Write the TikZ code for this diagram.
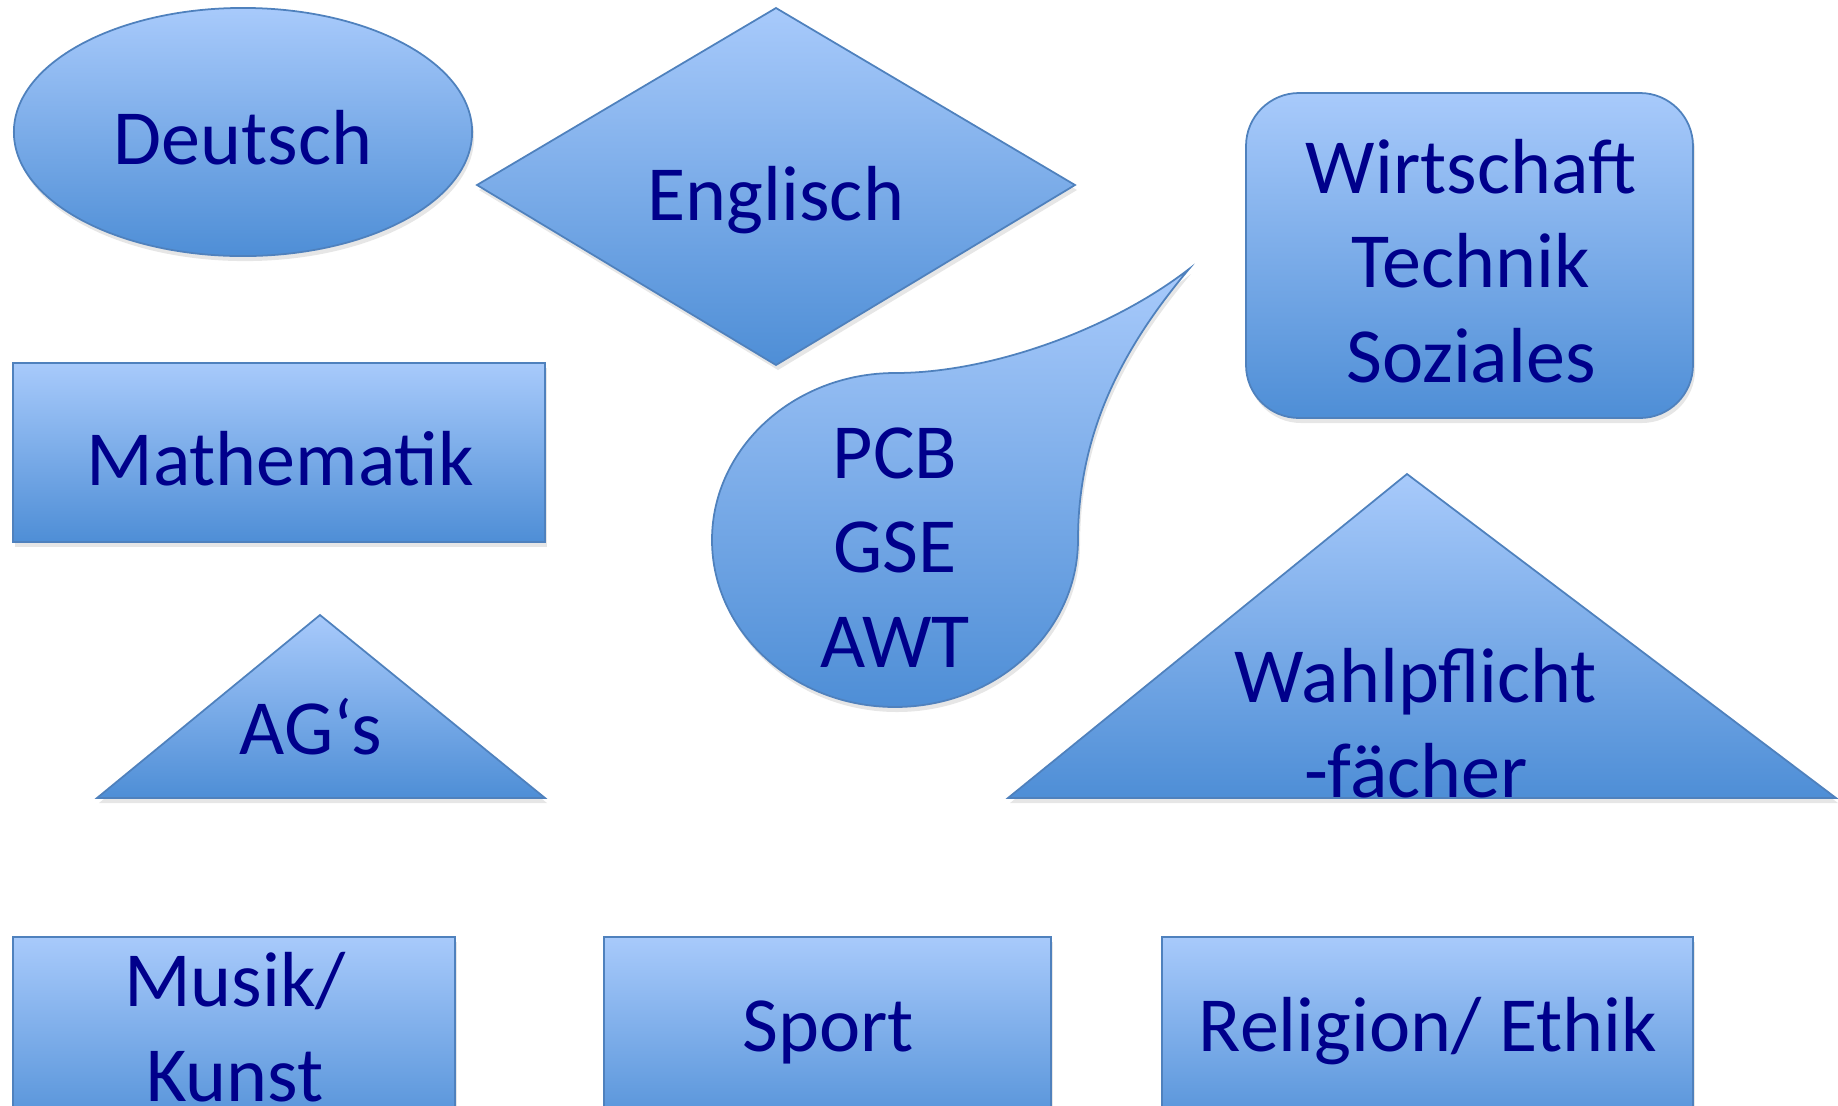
\documentclass[tikz,border=0pt]{standalone}
\usepackage{fontspec}
\setmainfont{Carlito}
\usepackage{xcolor}
\usepackage{tikz}
\usetikzlibrary{shadows}

\definecolor{fachtop}{RGB}{168,202,251}
\definecolor{fachbottom}{RGB}{78,142,214}
\definecolor{fachline}{RGB}{79,129,189}
\definecolor{fachschrift}{RGB}{0,0,139}

\tikzset{
    fach/.style={draw=fachline, line width=0.5pt, top color=fachtop, bottom color=fachbottom,
        drop shadow={shadow xshift=0.02cm, shadow yshift=-0.05cm, opacity=0.2}},
    schrift/.style={text=fachschrift, font=\fontsize{22.2}{26.8}\selectfont,
        align=center, anchor=base, inner sep=0pt}
}

\begin{document}
\begin{tikzpicture}[x=0.01cm, y=-0.01cm]
    \clip (0,0) rectangle (1838,1105);

    % top row
    \draw[fach] (243,132) ellipse [x radius=2.29cm, y radius=1.24cm];
    \draw[fach] (776,8) -- (1075,185) -- (776,365) -- (477,185) -- cycle;
    \draw[fach, rounded corners=0.53cm] (1246,93) rectangle (1693,418);

    % middle
    \draw[fach] (13,363) rectangle (545,542);
    \draw[fach] (712,540) .. controls (712,632) and (794,707) .. (895,707)
        .. controls (996,707) and (1078,632) .. (1078,540)
        .. controls (1078,430) and (1125,345) .. (1189,269)
        .. controls (1110,330) and (990,373) .. (895,373)
        .. controls (794,373) and (712,448) .. cycle;
    \draw[fach] (97,798) -- (320,615) -- (545,798) -- cycle;
    \draw[fach] (1008,798) -- (1407,474) -- (1836,798) -- cycle;

    % bottom row
    \foreach \xa/\xb in {13/455, 604/1051, 1162/1693}
        \draw[fach] (\xa,937) rectangle (\xb,1140);

    % texts (base = last line)
    \node[schrift] (deutsch) at (243,164) {Deutsch};
    \node[schrift] (englisch) at (776,220) {Englisch};
    \node[schrift] (wts) at (1471,382) {Wirtschaft\\Technik\\Soziales};
    \node[schrift] (mathe) at (280,485) {Mathematik};
    \node[schrift] (pcb) at (895,667) {PCB\\GSE\\AWT};
    \node[schrift] (ags) at (311,754) {AG‘s};
    \node[schrift] (wpf) at (1416,797) {Wahlpflicht\\-fächer};
    \node[schrift] (musik) at (235,1101) {Musik/\\Kunst};
    \node[schrift] (sport) at (828,1051) {Sport};
    \node[schrift] (religion) at (1428,1051) {Religion/ Ethik};
\end{tikzpicture}
\end{document}
